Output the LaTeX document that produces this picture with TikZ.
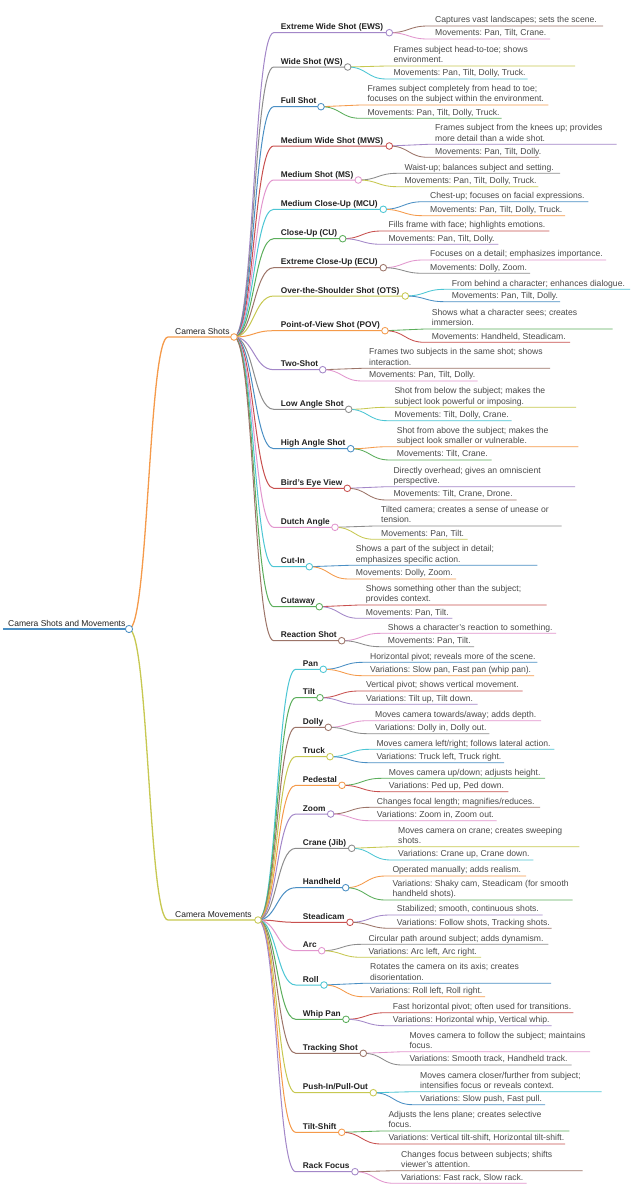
\documentclass[tikz,border=0pt]{standalone}
\usepackage{fontspec}
\setmainfont{Liberation Sans}
\usetikzlibrary{calc}
\pgfdeclarelayer{bg}
\pgfsetlayers{bg,main}
\frenchspacing
\definecolor{c0}{HTML}{4A8FC4}
\definecolor{c1}{HTML}{F59A4A}
\definecolor{c2}{HTML}{5BAE5B}
\definecolor{c3}{HTML}{C8504F}
\definecolor{c4}{HTML}{A387C8}
\definecolor{c5}{HTML}{9C7468}
\definecolor{c6}{HTML}{E296CE}
\definecolor{c7}{HTML}{8C8C8C}
\definecolor{c8}{HTML}{C7C851}
\definecolor{c9}{HTML}{4CC6D4}
\definecolor{txtgray}{HTML}{4A4A4A}
\definecolor{txtdark}{HTML}{222222}
\tikzset{
  leaftext/.style={inner sep=0pt, font=\fontsize{8.6}{10.3}\selectfont, text=txtgray},
  lbltext/.style={inner sep=0pt, font=\fontsize{8.3}{10}\selectfont\bfseries, text=txtdark},
  toptext/.style={inner sep=0pt, font=\fontsize{8.5}{10}\selectfont, text=txtdark},
  circ/.style={circle, fill=white, inner sep=0pt, minimum size=6.6pt, line width=0.85pt},
  rootline/.style={line width=1.6pt},
  l1line/.style={line width=1.3pt},
  l2line/.style={line width=1.0pt},
  leafline/.style={line width=0.85pt},
}
\newcommand{\twoline}[2]{\vbox{\hbox{#1}\hbox{#2}}}
% #1 name, #2 parent, #3 colour, #4 text x, #5 y, #6 circle x, #7 text, #8 text style, #9 line style
\newcommand{\mmsub}[9]{%
  \coordinate (#1-s) at ({#4-7},#5);
  \coordinate (#1-m) at ($(#2.center)!.5!(#1-s)$);
  \node[circ,draw=#3] (#1) at (#6,#5) {};
  \begin{pgfonlayer}{bg}
  \draw[#9,#3] (#2.center) .. controls (#1-m |- #2.center) and (#1-m |- #1-s) .. (#1-s) -- (#1.center);
  \end{pgfonlayer}
  \node[#8,anchor=base west] (#1-t) at (#4,{#5-3}) {#7};
}
% #1 name, #2 parent, #3 colour, #4 text x, #5 underline y, #6 end x, #7 text
\newcommand{\mmleaf}[7]{%
  \coordinate (#1-s) at ({#4-7},#5);
  \coordinate (#1-e) at (#6,#5);
  \coordinate (#1-m) at ($(#2.center)!.5!(#1-s)$);
  \begin{pgfonlayer}{bg}
  \draw[leafline,#3] (#2.center) .. controls (#1-m |- #2.center) and (#1-m |- #1-s) .. (#1-s) -- (#1-e);
  \end{pgfonlayer}
  \node[leaftext,anchor=base west] (#1) at (#4,{#5-3.2}) {#7};
}
\begin{document}
\begin{tikzpicture}[x=1pt,y=-1pt]
\begin{pgfonlayer}{bg}
\fill[white] (0,0) rectangle (632,1200);
\end{pgfonlayer}
\useasboundingbox (0,0) rectangle (632,1200);
% root
\coordinate (root-s) at (3,629);
\node[circ,draw=c0,minimum size=7.2pt] (root) at (129,629) {};
\begin{pgfonlayer}{bg}\draw[rootline,c0] (root-s) -- (root.center);\end{pgfonlayer}
\node[toptext,anchor=base west] (root-t) at (8,626) {Camera Shots and Movements};
% level 1
\mmsub{cs}{root}{c1}{175}{337}{234}{Camera Shots}{toptext}{l1line}
\mmsub{cm}{root}{c8}{175}{920}{258}{Camera Movements}{toptext}{l1line}
% Camera Shots
\mmsub{ews}{cs}{c4}{280.7}{32.7}{389.3}{Extreme Wide Shot (EWS)}{lbltext}{l2line}
\mmleaf{ews1}{ews}{c5}{435}{26}{603}{Captures vast landscapes; sets the scene.}
\mmleaf{ews2}{ews}{c6}{435}{39}{550}{Movements: Pan, Tilt, Crane.}
\mmsub{ws}{cs}{c7}{280.7}{67}{347.7}{Wide Shot (WS)}{lbltext}{l2line}
\mmleaf{ws1}{ws}{c8}{393.3}{66}{575}{\twoline{Frames subject head-to-toe; shows}{environment.}}
\mmleaf{ws2}{ws}{c9}{393.3}{79}{527.7}{Movements: Pan, Tilt, Dolly, Truck.}
\mmsub{full}{cs}{c0}{280.7}{106.7}{321}{Full Shot}{lbltext}{l2line}
\mmleaf{full1}{full}{c1}{367.3}{105}{548.3}{\twoline{Frames subject completely from head to toe;}{focuses on the subject within the environment.}}
\mmleaf{full2}{full}{c2}{367.3}{118.3}{501.7}{Movements: Pan, Tilt, Dolly, Truck.}
\mmsub{mws}{cs}{c3}{280.7}{146}{389.3}{Medium Wide Shot (MWS)}{lbltext}{l2line}
\mmleaf{mws1}{mws}{c4}{435}{144.3}{616.7}{\twoline{Frames subject from the knees up; provides}{more detail than a wide shot.}}
\mmleaf{mws2}{mws}{c5}{435}{157.3}{539}{Movements: Pan, Tilt, Dolly.}
\mmsub{ms}{cs}{c6}{280.7}{180}{358.3}{Medium Shot (MS)}{lbltext}{l2line}
\mmleaf{ms1}{ms}{c7}{404.3}{173.3}{560}{Waist-up; balances subject and setting.}
\mmleaf{ms2}{ms}{c8}{404.3}{186.7}{538.3}{Movements: Pan, Tilt, Dolly, Truck.}
\mmsub{mcu}{cs}{c9}{280.7}{209.3}{383.3}{Medium Close-Up (MCU)}{lbltext}{l2line}
\mmleaf{mcu1}{mcu}{c0}{430}{201.7}{588.3}{Chest-up; focuses on facial expressions.}
\mmleaf{mcu2}{mcu}{c1}{430}{215.7}{565}{Movements: Pan, Tilt, Dolly, Truck.}
\mmsub{cu}{cs}{c2}{280.7}{238.7}{342.7}{Close-Up (CU)}{lbltext}{l2line}
\mmleaf{cu1}{cu}{c3}{388.3}{231}{549.3}{Fills frame with face; highlights emotions.}
\mmleaf{cu2}{cu}{c4}{388.3}{244.3}{498.3}{Movements: Pan, Tilt, Dolly.}
\mmsub{ecu}{cs}{c5}{280.7}{267.7}{383.3}{Extreme Close-Up (ECU)}{lbltext}{l2line}
\mmleaf{ecu1}{ecu}{c6}{430}{260}{606}{Focuses on a detail; emphasizes importance.}
\mmleaf{ecu2}{ecu}{c7}{430}{273.3}{530}{Movements: Dolly, Zoom.}
\mmsub{ots}{cs}{c8}{280.7}{296}{405.3}{Over-the-Shoulder Shot (OTS)}{lbltext}{l2line}
\mmleaf{ots1}{ots}{c9}{451.7}{289.3}{630}{From behind a character; enhances dialogue.}
\mmleaf{ots2}{ots}{c0}{451.7}{301.7}{560}{Movements: Pan, Tilt, Dolly.}
\mmsub{pov}{cs}{c1}{280.7}{330.7}{385}{Point-of-View Shot (POV)}{lbltext}{l2line}
\mmleaf{pov1}{pov}{c2}{431.7}{329}{612.7}{\twoline{Shows what a character sees; creates}{immersion.}}
\mmleaf{pov2}{pov}{c3}{431.7}{342.3}{570}{Movements: Handheld, Steadicam.}
\mmsub{two}{cs}{c4}{280.7}{369.7}{322.7}{Two-Shot}{lbltext}{l2line}
\mmleaf{two1}{two}{c5}{369}{368.3}{550}{\twoline{Frames two subjects in the same shot; shows}{interaction.}}
\mmleaf{two2}{two}{c6}{369}{381}{477.7}{Movements: Pan, Tilt, Dolly.}
\mmsub{low}{cs}{c7}{280.7}{409.3}{348.7}{Low Angle Shot}{lbltext}{l2line}
\mmleaf{low1}{low}{c8}{394.3}{407.3}{576}{\twoline{Shot from below the subject; makes the}{subject look powerful or imposing.}}
\mmleaf{low2}{low}{c9}{394.3}{420.7}{511.7}{Movements: Tilt, Dolly, Crane.}
\mmsub{high}{cs}{c0}{280.7}{448.7}{350.7}{High Angle Shot}{lbltext}{l2line}
\mmleaf{high1}{high}{c1}{396.7}{446.7}{578.3}{\twoline{Shot from above the subject; makes the}{subject look smaller or vulnerable.}}
\mmleaf{high2}{high}{c2}{396.7}{460}{491.7}{Movements: Tilt, Crane.}
\mmsub{bird}{cs}{c3}{280.7}{488.3}{347.3}{Bird's Eye View}{lbltext}{l2line}
\mmleaf{bird1}{bird}{c4}{393.3}{486.7}{575}{\twoline{Directly overhead; gives an omniscient}{perspective.}}
\mmleaf{bird2}{bird}{c5}{393.3}{500}{516.7}{Movements: Tilt, Crane, Drone.}
\mmsub{dutch}{cs}{c6}{280.7}{527.3}{335}{Dutch Angle}{lbltext}{l2line}
\mmleaf{dutch1}{dutch}{c7}{381}{526}{561.7}{\twoline{Tilted camera; creates a sense of unease or}{tension.}}
\mmleaf{dutch2}{dutch}{c8}{381}{539.3}{467.7}{Movements: Pan, Tilt.}
\mmsub{cutin}{cs}{c9}{280.7}{566.7}{309.3}{Cut-In}{lbltext}{l2line}
\mmleaf{cutin1}{cutin}{c0}{355.7}{565.3}{537.3}{\twoline{Shows a part of the subject in detail;}{emphasizes specific action.}}
\mmleaf{cutin2}{cutin}{c1}{355.7}{579}{456}{Movements: Dolly, Zoom.}
\mmsub{cutaway}{cs}{c2}{280.7}{606.7}{319.3}{Cutaway}{lbltext}{l2line}
\mmleaf{cutaway1}{cutaway}{c3}{365.7}{605}{546.7}{\twoline{Shows something other than the subject;}{provides context.}}
\mmleaf{cutaway2}{cutaway}{c4}{365.7}{618.3}{452.3}{Movements: Pan, Tilt.}
\mmsub{react}{cs}{c5}{280.7}{640.7}{341.7}{Reaction Shot}{lbltext}{l2line}
\mmleaf{react1}{react}{c6}{387.7}{633.3}{556}{Shows a character's reaction to something.}
\mmleaf{react2}{react}{c7}{387.7}{646.7}{474}{Movements: Pan, Tilt.}
% Camera Movements
\mmsub{pan}{cm}{c9}{302.7}{669.3}{323.3}{Pan}{lbltext}{l2line}
\mmleaf{pan1}{pan}{c0}{370}{662.3}{537.3}{Horizontal pivot; reveals more of the scene.}
\mmleaf{pan2}{pan}{c1}{370}{675.7}{534}{Variations: Slow pan, Fast pan (whip pan).}
\mmsub{tilt}{cm}{c2}{302.7}{697.7}{320}{Tilt}{lbltext}{l2line}
\mmleaf{tilt1}{tilt}{c3}{366}{691}{522.7}{Vertical pivot; shows vertical movement.}
\mmleaf{tilt2}{tilt}{c4}{366}{704.3}{477.7}{Variations: Tilt up, Tilt down.}
\mmsub{dolly}{cm}{c5}{302.7}{727.3}{328.3}{Dolly}{lbltext}{l2line}
\mmleaf{dolly1}{dolly}{c6}{375}{720.7}{541}{Moves camera towards/away; adds depth.}
\mmleaf{dolly2}{dolly}{c7}{375}{733.7}{489.3}{Variations: Dolly in, Dolly out.}
\mmsub{truck}{cm}{c8}{302.7}{756.7}{330}{Truck}{lbltext}{l2line}
\mmleaf{truck1}{truck}{c9}{376.3}{749.3}{554.3}{Moves camera left/right; follows lateral action.}
\mmleaf{truck2}{truck}{c0}{376.3}{762.7}{504}{Variations: Truck left, Truck right.}
\mmsub{ped}{cm}{c1}{302.7}{785.3}{342}{Pedestal}{lbltext}{l2line}
\mmleaf{ped1}{ped}{c2}{388.7}{778.3}{545}{Moves camera up/down; adjusts height.}
\mmleaf{ped2}{ped}{c3}{388.7}{791.7}{508.3}{Variations: Ped up, Ped down.}
\mmsub{zoom}{cm}{c4}{302.7}{814}{330.7}{Zoom}{lbltext}{l2line}
\mmleaf{zoom1}{zoom}{c5}{376.7}{807.3}{540}{Changes focal length; magnifies/reduces.}
\mmleaf{zoom2}{zoom}{c6}{376.7}{820.7}{496.7}{Variations: Zoom in, Zoom out.}
\mmsub{crane}{cm}{c7}{302.7}{848.3}{351.7}{Crane (Jib)}{lbltext}{l2line}
\mmleaf{crane1}{crane}{c8}{398}{846.7}{579.3}{\twoline{Moves camera on crane; creates sweeping}{shots.}}
\mmleaf{crane2}{crane}{c9}{398}{860}{533.3}{Variations: Crane up, Crane down.}
\mmsub{hand}{cm}{c0}{302.7}{887.7}{345.7}{Handheld}{lbltext}{l2line}
\mmleaf{hand1}{hand}{c1}{392.3}{876}{526}{Operated manually; adds realism.}
\mmleaf{hand2}{hand}{c2}{392.3}{900}{572.7}{\twoline{Variations: Shaky cam, Steadicam (for smooth}{handheld shots).}}
\mmsub{steady}{cm}{c3}{302.7}{922.3}{350}{Steadicam}{lbltext}{l2line}
\mmleaf{steady1}{steady}{c4}{396.7}{915}{542.7}{Stabilized; smooth, continuous shots.}
\mmleaf{steady2}{steady}{c5}{396.7}{928.3}{551.7}{Variations: Follow shots, Tracking shots.}
\mmsub{arc}{cm}{c6}{302.7}{950.7}{321.7}{Arc}{lbltext}{l2line}
\mmleaf{arc1}{arc}{c7}{368.3}{944.3}{548.3}{Circular path around subject; adds dynamism.}
\mmleaf{arc2}{arc}{c8}{368.3}{957.3}{481}{Variations: Arc left, Arc right.}
\mmsub{roll}{cm}{c9}{302.7}{985}{324}{Roll}{lbltext}{l2line}
\mmleaf{roll1}{roll}{c0}{370}{983.3}{551}{\twoline{Rotates the camera on its axis; creates}{disorientation.}}
\mmleaf{roll2}{roll}{c1}{370}{996.7}{485}{Variations: Roll left, Roll right.}
\mmsub{whip}{cm}{c2}{302.7}{1019.3}{346}{Whip Pan}{lbltext}{l2line}
\mmleaf{whip1}{whip}{c3}{392.7}{1012.7}{573.3}{Fast horizontal pivot; often used for transitions.}
\mmleaf{whip2}{whip}{c4}{392.7}{1025.7}{551.7}{Variations: Horizontal whip, Vertical whip.}
\mmsub{track}{cm}{c5}{302.7}{1053.3}{363.3}{Tracking Shot}{lbltext}{l2line}
\mmleaf{track1}{track}{c6}{409.3}{1051.7}{590}{\twoline{Moves camera to follow the subject; maintains}{focus.}}
\mmleaf{track2}{track}{c7}{409.3}{1065}{571.7}{Variations: Smooth track, Handheld track.}
\mmsub{push}{cm}{c8}{302.7}{1092.7}{373.3}{Push-In/Pull-Out}{lbltext}{l2line}
\mmleaf{push1}{push}{c9}{420}{1091.7}{601.7}{\twoline{Moves camera closer/further from subject;}{intensifies focus or reveals context.}}
\mmleaf{push2}{push}{c0}{420}{1104.7}{545}{Variations: Slow push, Fast pull.}
\mmsub{tshift}{cm}{c1}{302.7}{1132.3}{341.7}{Tilt-Shift}{lbltext}{l2line}
\mmleaf{tshift1}{tshift}{c2}{388.3}{1131}{569.3}{\twoline{Adjusts the lens plane; creates selective}{focus.}}
\mmleaf{tshift2}{tshift}{c3}{388.3}{1144}{565}{Variations: Vertical tilt-shift, Horizontal tilt-shift.}
\mmsub{rack}{cm}{c4}{302.7}{1171.7}{355}{Rack Focus}{lbltext}{l2line}
\mmleaf{rack1}{rack}{c5}{401}{1170.7}{582.7}{\twoline{Changes focus between subjects; shifts}{viewer's attention.}}
\mmleaf{rack2}{rack}{c6}{401}{1183.3}{526.7}{Variations: Fast rack, Slow rack.}
\end{tikzpicture}
\end{document}
